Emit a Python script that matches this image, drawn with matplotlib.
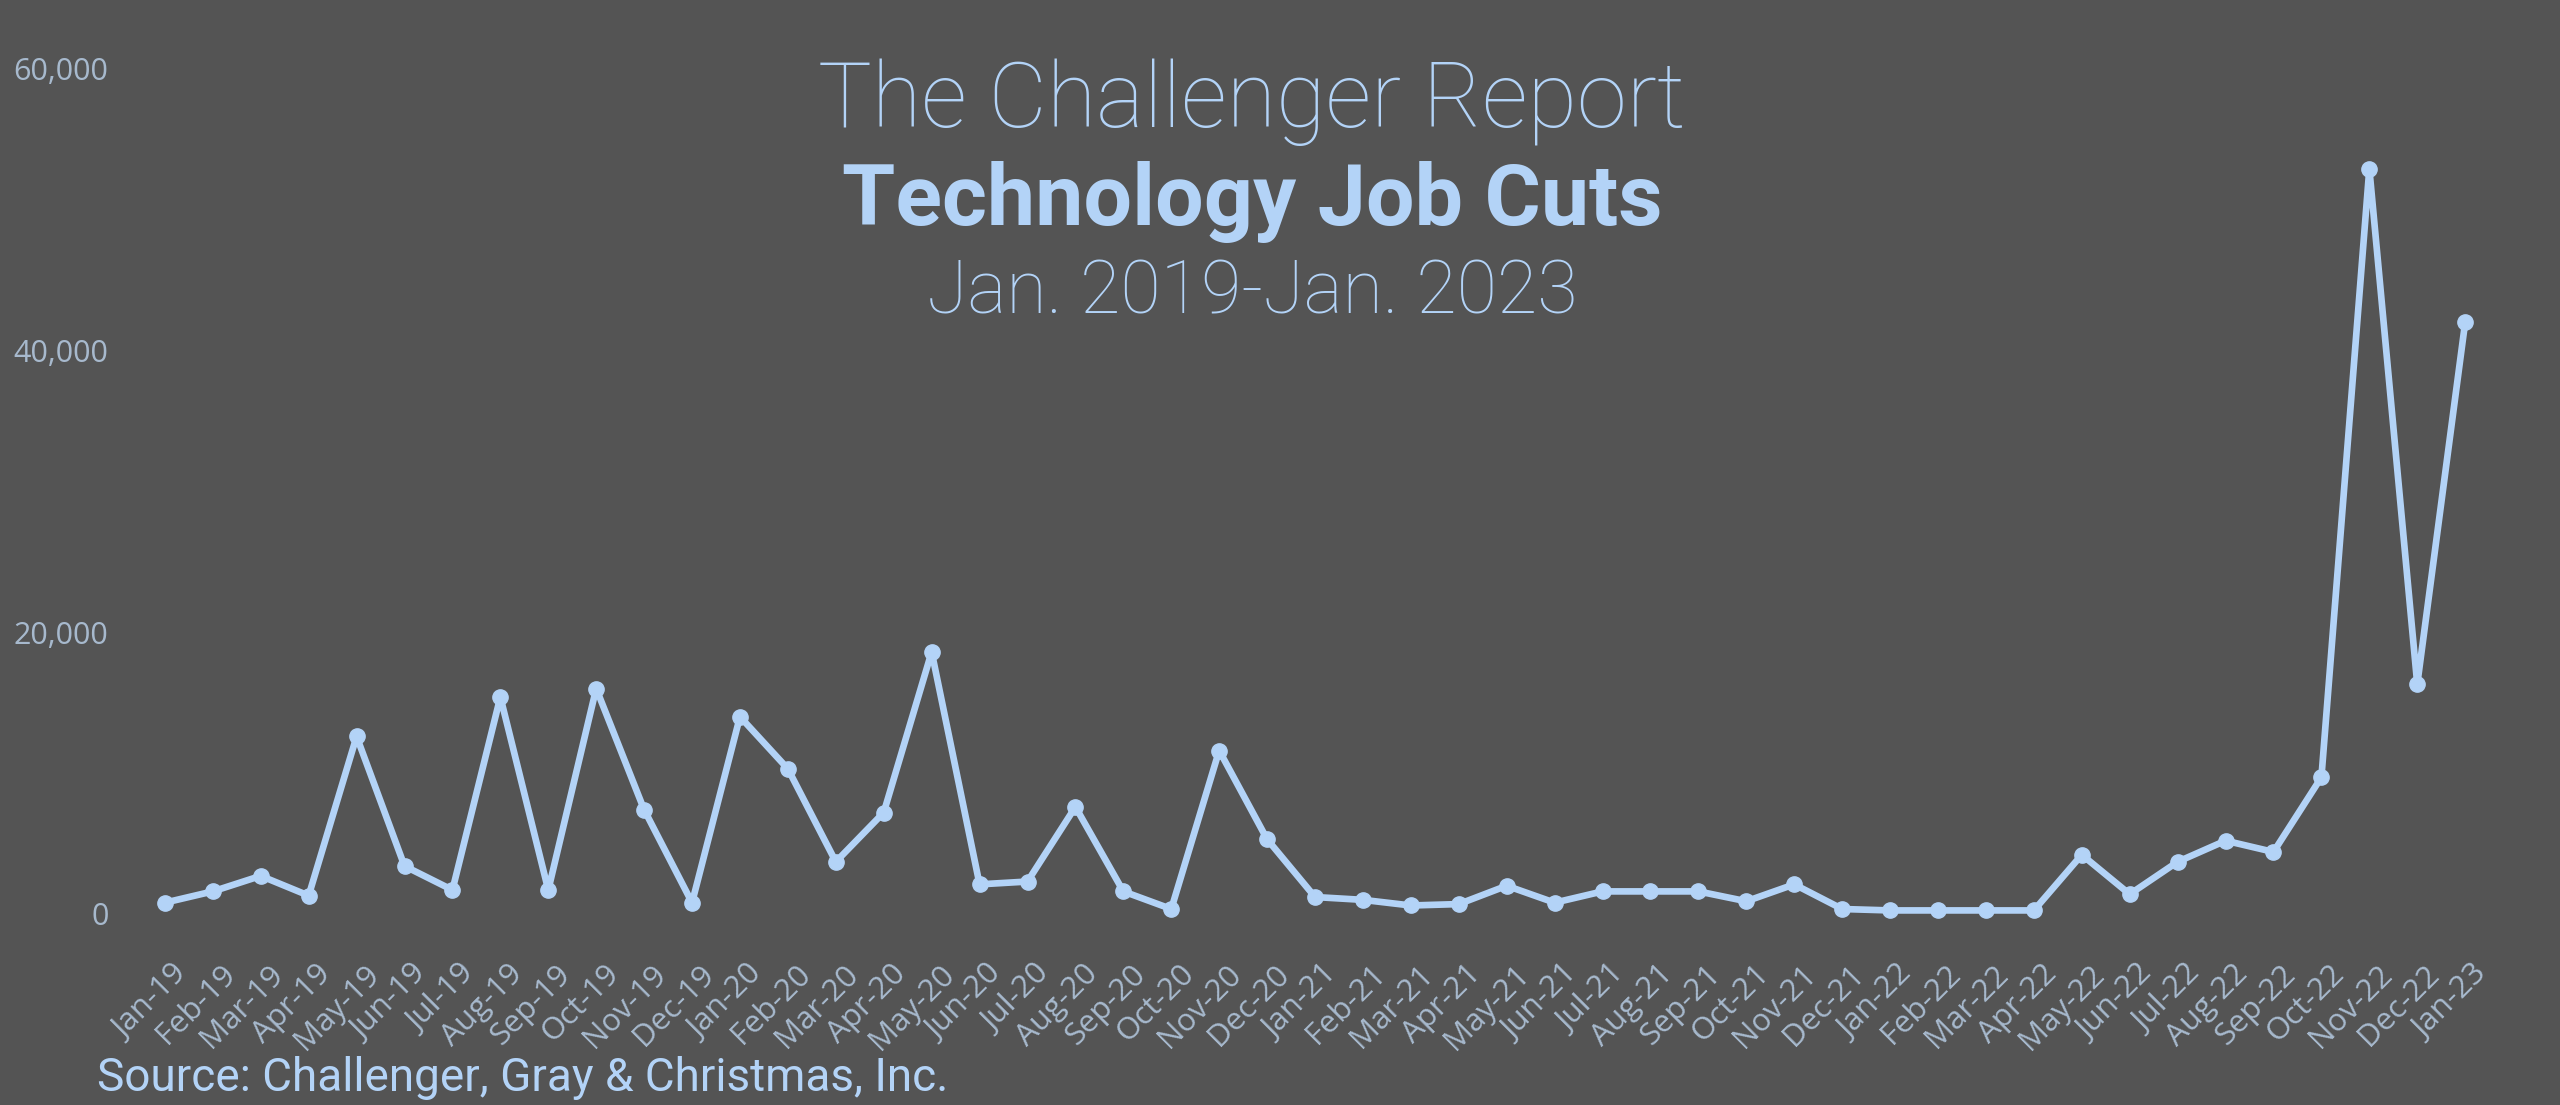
import matplotlib.pyplot as plt
import matplotlib.transforms as mtransforms
from matplotlib.ticker import FuncFormatter

# monthly technology job cuts, Jan-19 .. Jan-23
months = ['Jan-19', 'Feb-19', 'Mar-19', 'Apr-19', 'May-19', 'Jun-19', 'Jul-19', 'Aug-19',
          'Sep-19', 'Oct-19', 'Nov-19', 'Dec-19',
          'Jan-20', 'Feb-20', 'Mar-20', 'Apr-20', 'May-20', 'Jun-20', 'Jul-20', 'Aug-20',
          'Sep-20', 'Oct-20', 'Nov-20', 'Dec-20',
          'Jan-21', 'Feb-21', 'Mar-21', 'Apr-21', 'May-21', 'Jun-21', 'Jul-21', 'Aug-21',
          'Sep-21', 'Oct-21', 'Nov-21', 'Dec-21',
          'Jan-22', 'Feb-22', 'Mar-22', 'Apr-22', 'May-22', 'Jun-22', 'Jul-22', 'Aug-22',
          'Sep-22', 'Oct-22', 'Nov-22', 'Dec-22',
          'Jan-23']
job_cuts = [800, 1600, 2700, 1300, 12600, 3400, 1700, 15400,
            1700, 16000, 7400, 800,
            14000, 10300, 3700, 7200, 18600, 2100, 2300, 7600,
            1600, 350, 11600, 5300,
            1200, 1000, 600, 700, 2000, 800, 1600, 1600,
            1600, 900, 2100, 350,
            250, 250, 250, 250, 4200, 1400, 3700, 5200,
            4400, 9700, 52900, 16300,
            42000]

bg = '#545454'
line_col = '#b3d3f7'
tick_col = '#a7b9cd'

fig = plt.figure(figsize=(25.6, 11.05), dpi=100, facecolor=bg)
ax = fig.add_axes([0.05, 0.1729, 0.927, 0.765])
ax.set_facecolor(bg)

x = list(range(len(months)))
ax.plot(x, job_cuts, color=line_col, linewidth=4.8, marker='o', markersize=11,
        clip_on=False, solid_joinstyle='round')

ax.set_xlim(-0.77, 48.75)
ax.set_ylim(0, 60000)
ax.set_yticks([0, 20000, 40000, 60000])
ax.yaxis.set_major_formatter(FuncFormatter(lambda v, p: f'{int(v):,}'))
ax.set_xticks(x)
ax.set_xticklabels(months, rotation=45, ha='right', va='center', rotation_mode='anchor')

ax.tick_params(axis='both', length=0, colors=tick_col)
ax.tick_params(axis='y', labelsize=22, pad=14)
ax.tick_params(axis='x', labelsize=22.5, pad=40)
# nudge the slanted month labels a bit to the right, like the original
shift = mtransforms.ScaledTranslation(0.18, 0, fig.dpi_scale_trans)
for lbl in ax.get_xticklabels():
    lbl.set_transform(lbl.get_transform() + shift)
for lbl in ax.get_xticklabels() + ax.get_yticklabels():
    lbl.set_fontfamily('Open Sans')
for s in ax.spines.values():
    s.set_visible(False)

# title block
fig.text(0.489, 0.885, 'The Challenger Report', ha='center', va='baseline',
         fontsize=65, color=line_col, family='Roboto', fontweight='light')
fig.text(0.489, 0.796, 'Technology Job Cuts', ha='center', va='baseline',
         fontsize=62, color=line_col, family='Roboto', fontweight='bold')
fig.text(0.489, 0.716, 'Jan. 2019-Jan. 2023', ha='center', va='baseline',
         fontsize=53, color=line_col, family='Roboto', fontweight='light')

fig.text(0.038, 0.024, 'Source: Challenger, Gray & Christmas, Inc.', ha='left',
         va='center', fontsize=33, color=line_col, family='Roboto')

fig.savefig('out.png', dpi=100, facecolor=bg)
